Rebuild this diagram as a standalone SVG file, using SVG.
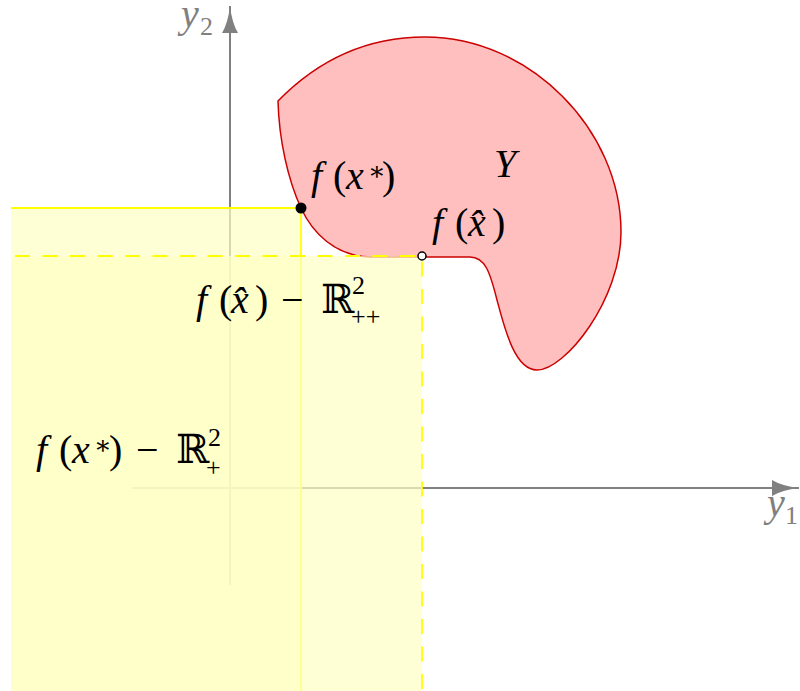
<svg xmlns="http://www.w3.org/2000/svg" width="800" height="691" viewBox="0 0 800 691">
<style>
.axis{stroke:#808080;stroke-width:2;fill:none}
.ax-lbl{fill:#808080;font-family:"Liberation Serif","DejaVu Serif",serif;font-size:40px}
.lbl{fill:#000;font-family:"Liberation Serif","DejaVu Serif",serif;font-size:40px}
.it{font-style:italic}
.sup{font-size:26px}
.cone{fill:#ffffc3;fill-opacity:0.7;stroke:none}
.edge-solid{stroke:#ffff00;stroke-width:1.8;fill:none}
.edge-dash{stroke:#ffff00;stroke-width:1.8;fill:none;stroke-dasharray:15 12.5;stroke-dashoffset:23.5}
</style>
<defs>
<marker id="arr" markerUnits="userSpaceOnUse" markerWidth="28" markerHeight="18" refX="27" refY="8" orient="auto">
<path d="M0,0 Q10,6 27,8 Q10,10 0,16 Z" fill="#808080"/>
</marker>
</defs>
<rect width="800" height="691" fill="#ffffff"/>
<g id="connectors">
<line class="axis" x1="230" y1="585" x2="230" y2="6" marker-end="url(#arr)"/>
<line class="axis" x1="132" y1="488" x2="799" y2="488" marker-end="url(#arr)"/>
</g>
<g id="node-Y">
<path d="M278 101 C320 58 370 37 425 37 C530 37 621 130 621 232 C621 300 565 370 537 370 C515 370 505 330 497 300 C490 272 485 257 470 257 L372 257 C335 257 312 232 301 208 C288 180 279 140 278 101 Z" fill="#ffbfbf" stroke="#cc0000" stroke-width="1.5"/>
<text class="lbl it" x="494" y="177" font-size="44">Y</text>
</g>
<g id="node-cone-xstar">
<rect class="cone" x="11" y="208" width="290" height="490"/>
<path class="edge-solid" d="M11 208 H301 V695"/>
</g>
<g id="node-cone-xhat">
<rect class="cone" x="11" y="256" width="411" height="440"/>
<path class="edge-dash" d="M11 256 H422 V695"/>
</g>
<g id="node-fxstar">
<circle cx="301" cy="208" r="5.5" fill="#000"/>
<text class="lbl"><tspan class="it" x="311" y="189">f</tspan><tspan x="333">(</tspan><tspan class="it" x="346">x</tspan><tspan class="sup" x="368" y="180">∗</tspan><tspan x="382" y="189">)</tspan></text>
</g>
<g id="node-fxhat">
<circle cx="422" cy="256" r="4" fill="#fff" stroke="#000" stroke-width="1.5"/>
<text class="lbl"><tspan class="it" x="432" y="236">f</tspan><tspan x="455">(</tspan><tspan class="it" x="468">x̂</tspan><tspan x="492">)</tspan></text>
</g>
<g id="label-cone-xhat">
<text class="lbl"><tspan class="it" x="196" y="313">f</tspan><tspan x="219">(</tspan><tspan class="it" x="231">x̂</tspan><tspan x="255">)</tspan><tspan x="281">−</tspan><tspan x="321">ℝ</tspan><tspan class="sup" x="352" y="294">2</tspan><tspan class="sup" x="351" y="325">++</tspan></text>
</g>
<g id="label-cone-xstar">
<text class="lbl"><tspan class="it" x="36" y="463">f</tspan><tspan x="59">(</tspan><tspan class="it" x="72">x</tspan><tspan class="sup" x="94" y="454">∗</tspan><tspan x="109" y="463">)</tspan><tspan x="136">−</tspan><tspan x="176">ℝ</tspan><tspan class="sup" x="208" y="446">2</tspan><tspan class="sup" x="206" y="476">+</tspan></text>
</g>
<g id="axis-labels">
<text class="ax-lbl"><tspan class="it" x="181" y="27">y</tspan><tspan x="200" y="35" font-size="26">2</tspan></text>
<text class="ax-lbl"><tspan class="it" x="767" y="516">y</tspan><tspan x="785" y="524" font-size="26">1</tspan></text>
</g>
</svg>
